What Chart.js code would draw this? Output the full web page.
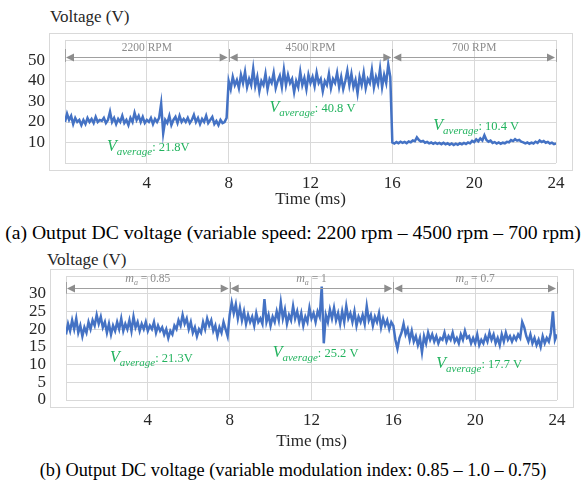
<!DOCTYPE html>
<html lang="en">
<head>
<meta charset="UTF-8">
<script src="https://cdn.jsdelivr.net/npm/chart.js"></script>
<title>Output DC voltage</title>
<style>
    body {
        margin: 0;
        background: #fff;
        width: 586px;
        height: 487px;
        position: relative;
        overflow: hidden;
        font-family: 'Liberation Serif', 'Times New Roman', serif;
    }
    canvas { position: absolute; left: 0; }
    .ylabel { position: absolute; font-size: 17px; color: #262626; line-height: 1; }
    .caption { position: absolute; left: 0; width: 586px; text-align: center; color: #000; line-height: 1; white-space: nowrap; }
</style>
</head>
<body>
<div class="ylabel" style="left:50px; top:8px;">Voltage (V)</div>
<canvas id="speedChart" width="586" height="212" style="top:0px;"></canvas>
<div class="caption" style="top:223px; font-size:19.7px;">(a) Output DC voltage (variable speed: 2200 rpm – 4500 rpm – 700 rpm)</div>

<div class="ylabel" style="left:47px; top:251px;">Voltage (V)</div>
<canvas id="modChart" width="586" height="222" style="top:236px;"></canvas>
<div class="caption" style="top:461px; font-size:18.3px;">(b) Output DC voltage (variable modulation index: 0.85 – 1.0 – 0.75)</div>

<script>
// sampling step of the scope traces (ms)
const sampleStep = 0.1;
const segmentBounds = [0, 8, 16, 24];

// (a) variable speed, one array per segment (0.1 ms apart)
const speed2200 = [20, 24, 21, 23, 19, 22, 20, 21, 18.5, 21, 19, 22, 20, 21.5, 19.5, 22.5, 20, 21, 20.5, 22,
    19.5, 21, 25, 20, 22, 19, 21.5, 20, 23, 19.5, 21, 18.5, 22, 20, 24.5, 21, 23, 20, 22.5, 19.5,
    21, 20, 22, 19, 21.5, 20, 22, 29, 14.5, 21, 19.5, 23, 18.5, 21, 22.5, 19.5, 23, 20, 21.5, 20,
    22, 19.5, 21, 23.5, 20, 22, 19, 21.5, 20, 23, 19.5, 21, 22.5, 19, 20.5, 18.5, 21, 19.5, 20, 22];
const speed4500 = [40, 36, 42, 38, 40.5, 36.5, 43, 39, 44.5, 37, 41, 38, 46, 37.5, 42, 35, 40, 38, 43.5, 36,
    41, 39, 44, 36.5, 40, 42.5, 37, 45.5, 38, 43, 39, 41, 34.5, 40, 37, 44.5, 38, 41.5, 36, 43,
    39, 42, 37.5, 44, 39, 41, 35, 40, 38, 43.5, 36.5, 41, 39, 44, 37, 42, 36, 40, 45, 38,
    43.5, 37, 40.5, 34, 42, 38, 44, 36.5, 41, 39, 45.5, 37, 42, 38.5, 46, 37, 43, 39, 48, 42];
const speed700 = [10, 9.5, 10.2, 9.6, 10.4, 9.8, 10.3, 9.7, 10.5, 10.1, 11, 10.6, 12.5, 11.2, 10.4, 10.8, 9.9, 10.3, 9.6, 10,
    9.4, 9.9, 9.3, 9.8, 9.2, 9.9, 9.1, 9.6, 8.9, 9.5, 8.8, 9.4, 8.9, 9.6, 9.1, 9.8, 9.3, 10, 9.6, 10.8,
    10.2, 11.5, 10.6, 12, 11, 13.5, 11.2, 10.4, 10.9, 9.8, 10.2, 9.5, 10, 9.4, 9.9, 9.6, 10.3, 10.1, 11.2, 10.7,
    11.6, 10.9, 11.3, 10.4, 10.1, 9.6, 10, 9.4, 9.9, 9.5, 10.4, 9.8, 11, 10.2, 10.7, 9.9, 10.3, 9.5, 9.9, 9.2, 9.6];
const speedLabels = ['2200 RPM', '4500 RPM', '700 RPM'];
const speedAverages = ['21.8V', '40.8 V', '10.4 V'];
const speedTicksY = [10, 20, 30, 40, 50];

// (b) variable modulation index
const mod085 = [18.5, 21.5, 19.5, 22.5, 20, 23, 19, 21, 18, 20.5, 19, 22, 20, 22.5, 21, 24, 21.5, 23.5, 20.5, 22,
    19, 21.5, 18.5, 21, 19.5, 22, 20, 23, 19.5, 21.5, 20, 22.5, 19.5, 23.5, 20.5, 22, 19.5, 21.5, 20, 22,
    19.5, 21, 20, 22, 19, 21, 19.5, 20.5, 18.5, 20, 17.5, 19.5, 18.5, 21, 20, 22.5, 21, 24, 21.5, 23,
    20, 22, 19, 20.5, 18, 20, 19, 22, 20, 23, 21, 22.5, 19.5, 21, 18, 20.5, 19, 22, 20, 18];
const mod100 = [24, 27.5, 24.5, 27, 23, 26, 22.5, 25, 21.5, 24, 22, 23.5, 21, 24.5, 22, 23, 21.5, 28.5, 22, 24,
    21, 23.5, 22, 25, 22.5, 27.5, 23, 25.5, 21.5, 24, 22.5, 26.5, 23, 25, 22, 24.5, 21, 23.5, 22, 26,
    23, 24.5, 22, 25, 23.5, 32, 16, 24, 22, 25.5, 23, 26, 22.5, 24.5, 21.5, 25, 22, 26.5, 23, 24.5,
    22, 25, 21, 23.5, 22, 24, 21.5, 26.5, 22.5, 24, 21, 23.5, 22, 24.5, 20.5, 23, 21, 22.5, 20, 22];
const mod070 = [21, 17, 14.5, 17.5, 19, 21.5, 18.5, 20, 17, 19.5, 16.5, 18, 15.5, 17.5, 13.5, 18, 16, 19, 17, 18.5,
    16.5, 18, 16, 17.5, 17, 19, 16.5, 18, 17, 19, 16.5, 17.5, 16, 18.5, 17, 19.5, 17.5, 18, 16, 17.5,
    16, 18.5, 15.5, 17, 16, 18, 16.5, 19, 17, 18.5, 16, 17.5, 15.5, 18.5, 16.5, 19, 17, 18, 16.5, 18,
    17, 18.5, 17.5, 22, 20.5, 18, 16.5, 18.5, 16, 17.5, 15.5, 17, 15, 18, 16, 17.5, 16.5, 19, 25, 17, 18.5];
const modIndexValues = ['0.85', '1', '0.7'];
const modAverages = ['21.3V', '25.2 V', '17.7 V'];
const modTicksY = [0, 5, 10, 15, 20, 25, 30];

const lineColor = '#4472C4';
const gridColor = '#d9d9d9';
const greenText = '#22b35e';
const greyText = '#8c8c8c';
const serif = '"Liberation Serif", "Times New Roman", serif';

function toPoints(segments) {
    const values = [].concat(...segments);
    return values.map((v, i) => ({ x: Math.round(i * sampleStep * 10) / 10, y: v }));
}

function drawRich(ctx, parts, x, y, center) {
    let total = 0;
    parts.forEach(p => {
        ctx.font = (p.italic ? 'italic ' : '') + p.size + 'px ' + serif;
        p.w = ctx.measureText(p.t).width;
        total += p.w;
    });
    let cx = center ? x - total / 2 : x;
    parts.forEach(p => {
        ctx.font = (p.italic ? 'italic ' : '') + p.size + 'px ' + serif;
        ctx.fillText(p.t, cx, y + (p.dy || 0));
        cx += p.w;
    });
}

// frame, dimension arrows and average labels
const decorPlugin = {
    id: 'decor',
    beforeDraw(chart, args, opts) {
        const a = chart.chartArea;
        const ctx = chart.ctx;
        ctx.save();
        ctx.strokeStyle = gridColor;
        ctx.lineWidth = 1;
        ctx.strokeRect(a.left - 16 + 0.5, a.top - 7 + 0.5, a.width + 32, a.height + 14);
        ctx.restore();
    },
    afterDatasetsDraw(chart, args, opts) {
        const ctx = chart.ctx;
        const xs = chart.scales.x;
        const ys = chart.scales.y;
        ctx.save();
        ctx.strokeStyle = '#a0a0a0';
        ctx.fillStyle = '#8c8c8c';
        ctx.lineWidth = 1;
        const yArrow = Math.round(ys.getPixelForValue(opts.arrowLevel)) + 0.5;
        const yExtTop = ys.getPixelForValue(opts.extTop);
        const yExtBot = ys.getPixelForValue(opts.extBottom);
        segmentBounds.forEach(b => {
            const px = Math.round(xs.getPixelForValue(b)) + 0.5;
            ctx.beginPath();
            ctx.moveTo(px, yExtTop);
            ctx.lineTo(px, yExtBot);
            ctx.stroke();
        });
        for (let i = 0; i < segmentBounds.length - 1; i++) {
            const x1 = xs.getPixelForValue(segmentBounds[i]) + 1;
            const x2 = xs.getPixelForValue(segmentBounds[i + 1]) - 1;
            ctx.beginPath();
            ctx.moveTo(x1 + 6, yArrow);
            ctx.lineTo(x2 - 6, yArrow);
            ctx.stroke();
            ctx.beginPath();
            ctx.moveTo(x1, yArrow);
            ctx.lineTo(x1 + 8, yArrow - 4);
            ctx.lineTo(x1 + 8, yArrow + 4);
            ctx.closePath();
            ctx.fill();
            ctx.beginPath();
            ctx.moveTo(x2, yArrow);
            ctx.lineTo(x2 - 8, yArrow - 4);
            ctx.lineTo(x2 - 8, yArrow + 4);
            ctx.closePath();
            ctx.fill();
            const mid = xs.getPixelForValue((segmentBounds[i] + segmentBounds[i + 1]) / 2);
            ctx.fillStyle = greyText;
            drawRich(ctx, opts.segmentParts(i), mid, ys.getPixelForValue(opts.textLevel), true);
            ctx.fillStyle = '#8c8c8c';
        }
        ctx.fillStyle = greenText;
        opts.averages.forEach((lab, i) => {
            drawRich(ctx, [
                { t: 'V', italic: true, size: 16 },
                { t: 'average', italic: true, size: 11, dy: 4 },
                { t: ': ' + lab, size: 12.5 }
            ], xs.getPixelForValue(opts.avgPos[i][0]), ys.getPixelForValue(opts.avgPos[i][1]), false);
        });
        ctx.restore();
    }
};

function makeChart(id, segments, cfg) {
    return new Chart(document.getElementById(id), {
        type: 'line',
        data: {
            datasets: [{
                data: toPoints(segments),
                borderColor: lineColor,
                borderWidth: 2.5,
                pointRadius: 0,
                tension: 0,
                fill: false
            }]
        },
        options: {
            responsive: false,
            animation: false,
            layout: { padding: { top: 40, right: cfg.right, left: 0, bottom: 0 } },
            plugins: {
                legend: { display: false },
                tooltip: { enabled: false },
                decor: cfg.decor
            },
            scales: {
                x: {
                    type: 'linear',
                    min: 0,
                    max: 24,
                    afterFit: s => { s.height = cfg.xHeight; },
                    ticks: {
                        stepSize: 4,
                        padding: 10,
                        autoSkip: false,
                        maxRotation: 0,
                        color: '#262626',
                        font: { family: serif, size: 17 },
                        callback: v => v === 0 ? '' : v
                    },
                    grid: { color: gridColor, drawTicks: false },
                    border: { display: false },
                    title: {
                        display: true,
                        text: 'Time (ms)',
                        color: '#262626',
                        font: { family: serif, size: 17 },
                        padding: { top: 0, bottom: cfg.titlePad }
                    }
                },
                y: {
                    min: 0,
                    max: cfg.yMax,
                    afterFit: s => { s.width = cfg.yWidth; },
                    ticks: {
                        stepSize: cfg.yStep,
                        padding: 20,
                        autoSkip: false,
                        color: '#262626',
                        font: { family: serif, size: 17 },
                        callback: v => cfg.yTicks.includes(v) ? v : ''
                    },
                    grid: { color: gridColor, drawTicks: false },
                    border: { display: false }
                }
            }
        },
        plugins: [decorPlugin]
    });
}

makeChart('speedChart', [speed2200, speed4500, speed700], {
    right: 30, yWidth: 65, xHeight: 49, titlePad: 2,
    yMax: 60, yStep: 10, yTicks: speedTicksY,
    decor: {
        arrowLevel: 51.7, extTop: 55.6, extBottom: 49.3, textLevel: 54.6,
        segmentParts: i => [{ t: speedLabels[i], size: 11.5 }],
        averages: speedAverages,
        avgPos: [[2.05, 6.0], [10.0, 24.9], [18.0, 16.1]]
    }
});

makeChart('modChart', [mod085, mod100, mod070], {
    right: 29, yWidth: 66, xHeight: 58, titlePad: 6,
    yMax: 35, yStep: 5, yTicks: modTicksY,
    decor: {
        arrowLevel: 31.7, extTop: 33.3, extBottom: 30, textLevel: 33.2,
        segmentParts: i => [
            { t: 'm', italic: true, size: 12 },
            { t: 'a', italic: true, size: 8, dy: 3 },
            { t: ' = ' + modIndexValues[i], size: 11.5 }
        ],
        averages: modAverages,
        avgPos: [[2.15, 10.6], [10.1, 12.0], [18.1, 9.0]]
    }
});
</script>
</body>
</html>
